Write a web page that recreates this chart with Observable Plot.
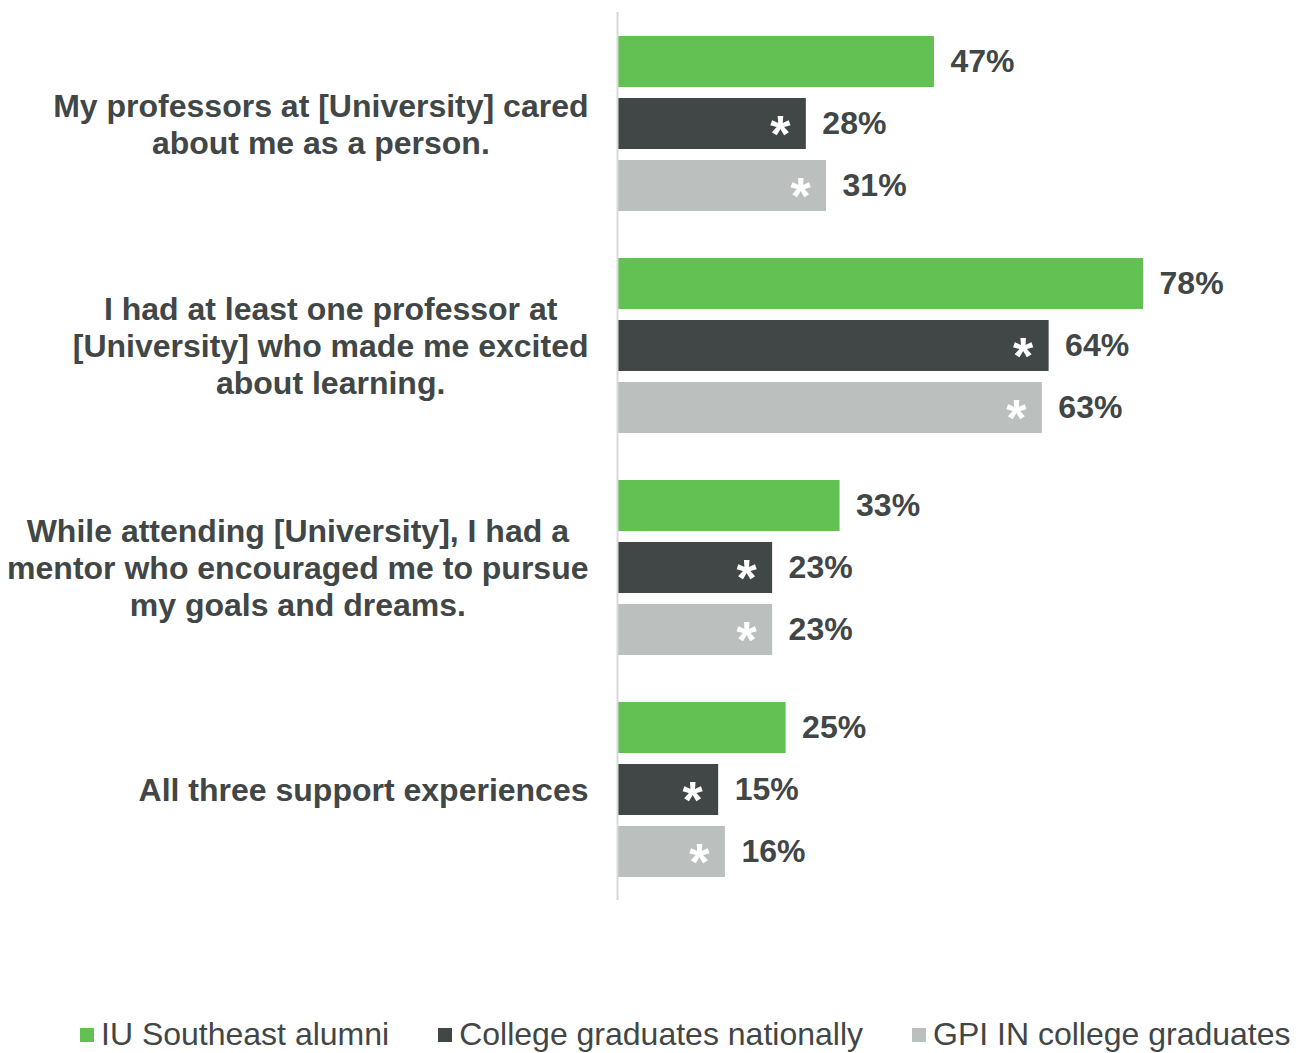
<!DOCTYPE html>
<html>
<head>
<meta charset="utf-8">
<script src="https://cdn.jsdelivr.net/npm/d3@7"></script>
<script src="https://cdn.jsdelivr.net/npm/@observablehq/plot@0.6"></script>
<style>
  html, body { margin: 0; padding: 0; background: #fff; }
  body { width: 1299px; font-family: "Liberation Sans", Arial, sans-serif; }
  #legend { display: flex; align-items: center; height: 37px; padding-top: 16px; padding-left: 80px; font-size: 32px; line-height: 37px; color: #414646; white-space: nowrap; }
  #legend .item { display: flex; align-items: center; margin-right: 49px; }
  #legend .sw { width: 14px; height: 14px; margin-right: 7px; }
</style>
</head>
<body>
<div id="chart"></div>
<div id="legend"></div>
<script>
const categories = [
  "My professors at [University] cared about me as a person.",
  "I had at least one professor at [University] who made me excited about learning.",
  "While attending [University], I had a mentor who encouraged me to pursue my goals and dreams.",
  "All three support experiences"
];
const categoryLines = [
  ["My professors at [University] cared", "about me as a person."],
  ["I had at least one professor at", "[University] who made me excited", "about learning."],
  ["While attending [University], I had a", "mentor who encouraged me to pursue", "my goals and dreams."],
  ["All three support experiences"]
];
const series = ["IU Southeast alumni", "College graduates nationally", "GPI IN college graduates"];
const colors = ["#62c152", "#414646", "#bbbfbe"];
const iuValues = [47, 78, 33, 25];
const nationalValues = [28, 64, 23, 15];
const gpiValues = [31, 63, 23, 16];
const nationalSig = [true, true, true, true];
const gpiSig = [true, true, true, true];

const data = [];
categories.forEach((c, i) => {
  data.push({category: c, series: series[0], value: iuValues[i], sig: false});
  data.push({category: c, series: series[1], value: nationalValues[i], sig: nationalSig[i]});
  data.push({category: c, series: series[2], value: gpiValues[i], sig: gpiSig[i]});
});

const textColor = "#414646";
const fontFamily = "'Liberation Sans', Arial, sans-serif";
const labelSize = 32;

const ctx = document.createElement("canvas").getContext("2d");
ctx.font = `bold ${labelSize}px ${fontFamily}`;
const blockWidth = categoryLines.map(lines => Math.max(...lines.map(l => ctx.measureText(l).width)));

const labelMarks = categories.map((c, i) =>
  Plot.text([c], {
    fy: d => d,
    text: () => categoryLines[i].join("\n"),
    frameAnchor: "left",
    textAnchor: "middle",
    dx: -29 - blockWidth[i] / 2,
    lineHeight: 1.16,
    fontSize: labelSize,
    fontWeight: "bold",
    fill: textColor
  })
);

const chart = Plot.plot({
  width: 1299,
  height: 1000,
  marginLeft: 617,
  marginRight: 7.6,
  marginTop: 12,
  marginBottom: 100,
  style: {fontFamily: fontFamily, background: "#fff"},
  x: {domain: [0, 100], axis: null},
  y: {domain: series, axis: null, paddingInner: 0.184, paddingOuter: 0.368},
  fy: {domain: categories, axis: null, padding: 0},
  color: {domain: series, range: colors},
  marks: [
    Plot.barX(data, {x: "value", y: "series", fy: "category", fill: "series"}),
    Plot.ruleX([0], {stroke: "#d9d9d9", strokeWidth: 2}),
    Plot.text(data, {
      x: "value", y: "series", fy: "category",
      text: d => d.value + "%",
      textAnchor: "start", dx: 16,
      fontSize: labelSize, fontWeight: "bold", fill: textColor
    }),
    Plot.text(data.filter(d => d.sig), {
      x: "value", y: "series", fy: "category",
      text: () => "*",
      textAnchor: "middle", dx: -26, dy: 11,
      fontSize: 52, fontWeight: "bold", fill: "#ffffff"
    }),
    ...labelMarks
  ]
});
document.getElementById("chart").appendChild(chart);

const legend = document.getElementById("legend");
series.forEach((s, i) => {
  const item = document.createElement("div");
  item.className = "item";
  const sw = document.createElement("span");
  sw.className = "sw";
  sw.style.background = colors[i];
  const t = document.createElement("span");
  t.textContent = s;
  item.appendChild(sw);
  item.appendChild(t);
  legend.appendChild(item);
});
</script>
</body>
</html>
